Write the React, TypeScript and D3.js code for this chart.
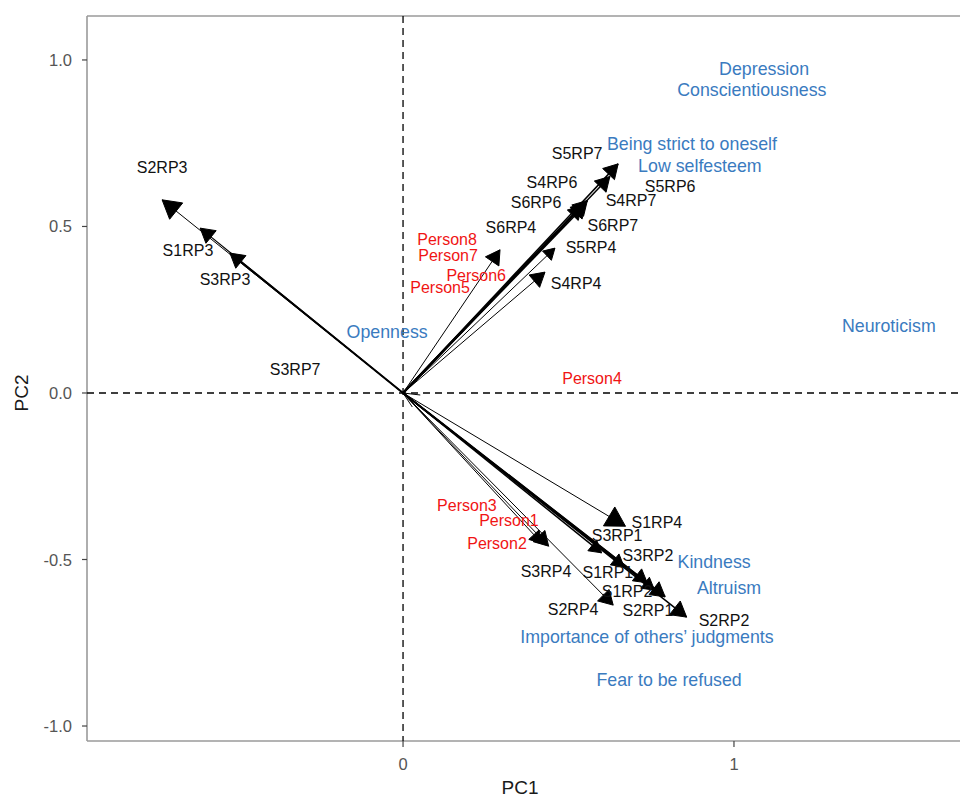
import React from "react";
import * as d3 from "d3";

// Arrow loadings (PC1, PC2)
const ARROW_NAMES = [
  "S2RP3", "S1RP3", "S3RP3",
  "S5RP7", "S5RP6", "S4RP6", "S4RP7", "S6RP6", "S6RP7", "S5RP4", "S4RP4", "S6RP4",
  "S1RP4", "Person2", "S2RP4", "S3RP1", "S1RP1", "S1RP2", "S2RP1", "S2RP2", "S3RP2", "S3RP4",
  "S3RP7", "Person4",
];
const ARROW_PC1 = [
  -0.728, -0.613, -0.523,
  0.650, 0.625, 0.557, 0.548, 0.540, 0.552, 0.459, 0.429, 0.293,
  0.672, 0.440, 0.635, 0.600, 0.668, 0.738, 0.792, 0.857, 0.760, 0.420,
  0.052, 0.028,
];
const ARROW_PC2 = [
  0.580, 0.495, 0.420,
  0.688, 0.650, 0.578, 0.570, 0.562, 0.566, 0.435, 0.363, 0.430,
  -0.400, -0.460, -0.637, -0.480, -0.522, -0.570, -0.612, -0.673, -0.592, -0.452,
  -0.006, -0.042,
];
const ARROW_WEIGHT = [
  1, 1.2, 2,
  1.5, 1.5, 2, 2, 2, 1.5, 1, 1, 1,
  1, 1, 1, 1.5, 1.5, 1.5, 2, 1.5, 1.5, 1,
  1, 1,
];
const ARROW_HEAD = [
  18, 14, 14,
  14, 14, 14, 13, 13, 13, 11, 14, 14,
  19, 14, 14, 12, 12, 13, 14, 15, 12, 12,
  0, 0,
];

// Labels: variable (black), persons (red), traits (blue)
const VAR_LABELS = ["S2RP3", "S1RP3", "S3RP3", "S3RP7", "S5RP7", "S4RP6", "S5RP6", "S4RP7", "S6RP6", "S6RP4", "S6RP7", "S5RP4", "S4RP4", "S1RP4", "S3RP1", "S3RP2", "S3RP4", "S1RP1", "S1RP2", "S2RP4", "S2RP1", "S2RP2"];
const VAR_PC1 = [-0.728, -0.650, -0.538, -0.326, 0.526, 0.450, 0.807, 0.689, 0.402, 0.326, 0.634, 0.568, 0.523, 0.767, 0.647, 0.740, 0.432, 0.619, 0.677, 0.514, 0.740, 0.970];
const VAR_PC2 = [0.676, 0.429, 0.342, 0.072, 0.718, 0.631, 0.619, 0.577, 0.571, 0.498, 0.502, 0.438, 0.330, -0.390, -0.429, -0.489, -0.535, -0.538, -0.595, -0.649, -0.652, -0.682];

const PERSON_LABELS = ["Person8", "Person7", "Person6", "Person5", "Person4", "Person3", "Person1", "Person2"];
const PERSON_PC1 = [0.133, 0.136, 0.221, 0.112, 0.571, 0.193, 0.320, 0.284];
const PERSON_PC2 = [0.462, 0.414, 0.354, 0.318, 0.042, -0.339, -0.384, -0.453];

const TRAIT_LABELS = ["Depression", "Conscientiousness", "Being strict to oneself", "Low selfesteem", "Openness", "Neuroticism", "Kindness", "Altruism", "Importance of others’ judgments", "Fear to be refused"];
const TRAIT_PC1 = [1.091, 1.054, 0.873, 0.897, -0.048, 1.468, 0.940, 0.985, 0.737, 0.804];
const TRAIT_PC2 = [0.973, 0.910, 0.748, 0.682, 0.183, 0.201, -0.508, -0.586, -0.733, -0.862];

const X_TICKS = [0, 1];
const Y_TICKS = [1.0, 0.5, 0.0, -0.5, -1.0];

const W = 960;
const H = 798;
const LEFT = 87;
const RIGHT = 960;
const TOP = 16;
const BOTTOM = 741;

export default function App() {
  const x = d3.scaleLinear().domain([-0.955, 1.683]).range([LEFT, RIGHT]);
  const y = d3.scaleLinear().domain([-1.045, 1.132]).range([BOTTOM, TOP]);
  const ox = x(0);
  const oy = y(0);
  const font = "'Liberation Sans', Arial, sans-serif";
  const axisCol = "#9a9a9a";

  const arrows = ARROW_NAMES.map((n, i) => {
    const tx = x(ARROW_PC1[i]);
    const ty = y(ARROW_PC2[i]);
    const dx = tx - ox;
    const dy = ty - oy;
    const len = Math.hypot(dx, dy);
    const ux = dx / len;
    const uy = dy / len;
    const L = ARROW_HEAD[i];
    const hw = L * 0.58;
    const bx = tx - ux * L;
    const by = ty - uy * L;
    const pts = [
      [tx, ty],
      [bx - uy * hw, by + ux * hw],
      [bx + uy * hw, by - ux * hw],
    ];
    return { n, tx, ty, pts, w: ARROW_WEIGHT[i], L };
  });

  return (
    <svg
      width={W}
      height={H}
      style={{ position: "absolute", left: 0, top: 0, background: "#fff" }}
      fontFamily={font}
    >
      <rect x={0} y={0} width={W} height={H} fill="#fff" />
      {/* panel lines */}
      <line x1={LEFT} x2={RIGHT} y1={TOP} y2={TOP} stroke={axisCol} strokeWidth={1.6} />
      <line x1={LEFT} x2={LEFT} y1={TOP} y2={BOTTOM} stroke={axisCol} strokeWidth={1.6} />
      <line x1={LEFT} x2={RIGHT} y1={BOTTOM} y2={BOTTOM} stroke={axisCol} strokeWidth={1.6} />

      {/* dashed reference lines */}
      <line x1={ox} x2={ox} y1={TOP} y2={BOTTOM} stroke="#000" strokeWidth={1.3} strokeDasharray="7,5" />
      <line x1={LEFT} x2={RIGHT} y1={oy} y2={oy} stroke="#000" strokeWidth={1.3} strokeDasharray="7,5" />

      {/* y ticks */}
      {Y_TICKS.map((t) => (
        <g key={"y" + t}>
          <line x1={LEFT - 5} x2={LEFT} y1={y(t)} y2={y(t)} stroke="#444" strokeWidth={1.2} />
          <text x={LEFT - 15} y={y(t)} textAnchor="end" dominantBaseline="central" fontSize={16.5} fill="#555">
            {t.toFixed(1)}
          </text>
        </g>
      ))}
      {/* x ticks */}
      {X_TICKS.map((t) => (
        <g key={"x" + t}>
          <line x1={x(t)} x2={x(t)} y1={BOTTOM} y2={BOTTOM + 6} stroke="#444" strokeWidth={1.2} />
          <text x={x(t)} y={BOTTOM + 23} textAnchor="middle" dominantBaseline="central" fontSize={16.5} fill="#555">
            {t}
          </text>
        </g>
      ))}
      <text x={520} y={787} textAnchor="middle" dominantBaseline="central" fontSize={19} fill="#1a1a1a">PC1</text>
      <text
        transform={`translate(21,${oy}) rotate(-90)`}
        textAnchor="middle"
        dominantBaseline="central"
        fontSize={19}
        fill="#1a1a1a"
      >
        PC2
      </text>

      {/* arrows */}
      {arrows.map((a, i) => (
        <g key={"a" + i}>
          <line x1={ox} y1={oy} x2={a.tx} y2={a.ty} stroke="#000" strokeWidth={a.w} />
          {a.L > 0 && (
            <polygon points={a.pts.map((p) => p.join(",")).join(" ")} fill="#000" stroke="#000" strokeWidth={1} strokeLinejoin="miter" />
          )}
        </g>
      ))}

      {/* labels */}
      {VAR_LABELS.map((l, i) => (
        <text key={"v" + i} x={x(VAR_PC1[i])} y={y(VAR_PC2[i])} textAnchor="middle" dominantBaseline="central" fontSize={16} fill="#111">
          {l}
        </text>
      ))}
      {PERSON_LABELS.map((l, i) => (
        <text key={"p" + i} x={x(PERSON_PC1[i])} y={y(PERSON_PC2[i])} textAnchor="middle" dominantBaseline="central" fontSize={16} fill="#f01414">
          {l}
        </text>
      ))}
      {TRAIT_LABELS.map((l, i) => (
        <text key={"t" + i} x={x(TRAIT_PC1[i])} y={y(TRAIT_PC2[i])} textAnchor="middle" dominantBaseline="central" fontSize={17.8} fill="#3a7bbf">
          {l}
        </text>
      ))}
    </svg>
  );
}
